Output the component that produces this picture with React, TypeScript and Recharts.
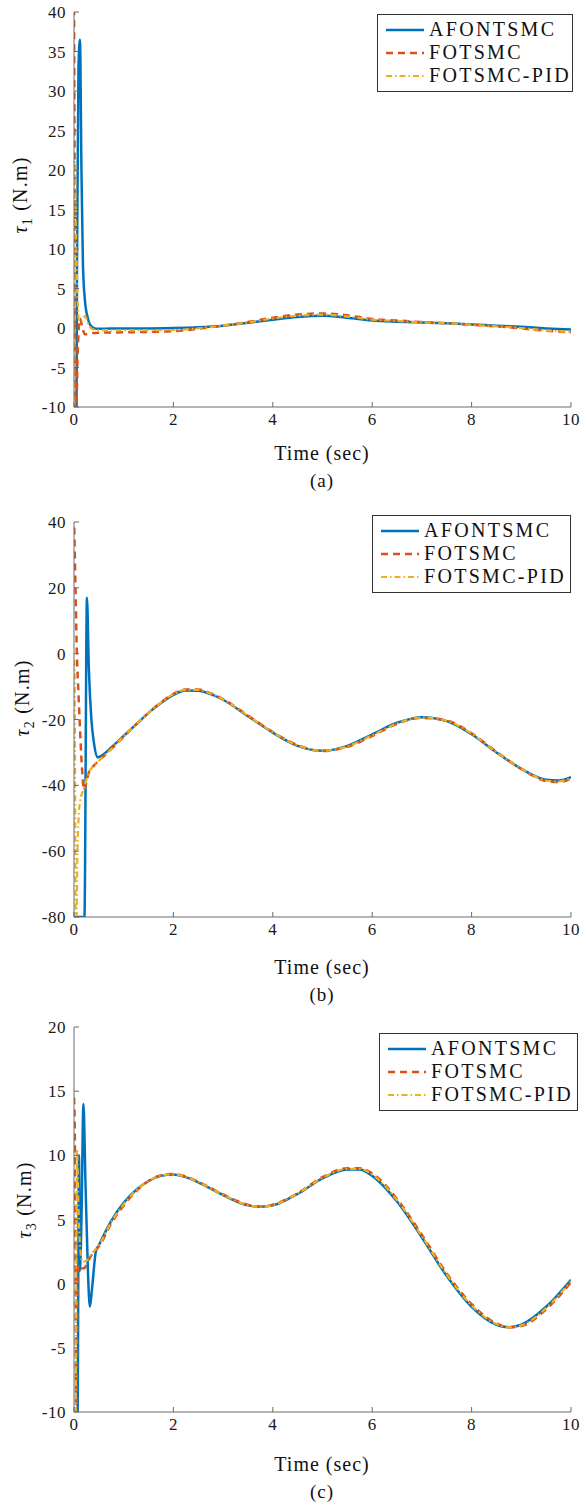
import React from 'react';
import { Line, LineChart, XAxis, YAxis } from 'recharts';

// ---- data (time in sec, torque in N.m) ----
const xTicks = [0, 2, 4, 6, 8, 10];
const yTicks1 = [-10, -5, 0, 5, 10, 15, 20, 25, 30, 35, 40];
const yTicks2 = [-80, -60, -40, -20, 0, 20, 40];
const yTicks3 = [-10, -5, 0, 5, 10, 15, 20];

const seriesNames = ['AFONTSMC', 'FOTSMC', 'FOTSMC-PID'];

// panel (a)
const t1Blue = [0, 0.05, 0.06, 0.09, 0.12, 0.15, 0.18, 0.22, 0.28, 0.35, 0.45, 0.5, 1, 1.5, 2, 2.5, 3, 3.5, 4, 4.5, 5, 5.5, 6, 6.5, 7, 7.5, 8, 8.5, 9, 9.5, 10];
const tau1Blue = [-12, -12, 8, 33, 36.5, 20, 8, 3.5, 1.2, 0.2, -0.1, -0.1, -0.05, -0.05, 0, 0.1, 0.3, 0.65, 1.05, 1.4, 1.55, 1.3, 0.95, 0.8, 0.7, 0.6, 0.45, 0.3, 0.15, -0.05, -0.2];
const t1Orange = [0, 0.015, 0.03, 0.045, 0.07, 0.12, 0.17, 0.22, 0.3, 0.5, 1, 1.5, 2, 2.5, 3, 3.5, 4, 4.5, 5, 5.5, 6, 6.5, 7, 7.5, 8, 8.5, 9, 9.5, 10];
const tau1Orange = [42, 15, -11, -11, -4, 1.2, 0, -0.8, -0.7, -0.6, -0.55, -0.5, -0.4, -0.1, 0.3, 0.75, 1.3, 1.7, 1.85, 1.6, 1.15, 0.95, 0.75, 0.6, 0.4, 0.2, -0.05, -0.35, -0.55];
const t1Yellow = [0, 0.02, 0.04, 0.07, 0.1, 0.15, 0.22, 0.3, 0.4, 0.5, 1, 1.5, 2, 2.5, 3, 3.5, 4, 4.5, 5, 5.5, 6, 6.5, 7, 7.5, 8, 8.5, 9, 9.5, 10];
const tau1Yellow = [-11, 21, 12, 4, 1, 0.8, 1.5, 0.3, -0.2, -0.25, -0.3, -0.3, -0.25, -0.05, 0.3, 0.7, 1.2, 1.55, 1.7, 1.45, 1.05, 0.9, 0.7, 0.6, 0.4, 0.2, 0, -0.3, -0.5];

// panel (b)
const t2Blue = [0, 0.21, 0.26, 0.3, 0.35, 0.4, 0.48, 0.6, 0.75, 1, 1.25, 1.5, 1.75, 2, 2.25, 2.5, 2.75, 3, 3.5, 4, 4.5, 5, 5.5, 6, 6.5, 7, 7.5, 8, 8.5, 9, 9.25, 9.5, 9.75, 10];
const tau2Blue = [-80, -80, 17, -5, -20, -27, -31.5, -30.5, -28.5, -25, -21.5, -18, -15, -12.5, -11.2, -11.3, -12.3, -14, -19, -24, -28, -29.5, -28, -24.5, -21, -19.3, -20.5, -24.5, -30, -35, -37, -38.3, -38.5, -37.5];
const t2Orange = [0, 0.03, 0.06, 0.09, 0.13, 0.17, 0.2, 0.25, 0.3, 0.4, 0.5, 0.75, 1, 1.25, 1.5, 1.75, 2, 2.25, 2.5, 2.75, 3, 3.5, 4, 4.5, 5, 5.5, 6, 6.5, 7, 7.5, 8, 8.5, 9, 9.25, 9.5, 9.75, 10];
const tau2Orange = [42, 20, -1, -12, -26, -37, -41.5, -39, -36, -34, -32.5, -29, -25.2, -21.5, -18, -14.8, -12.2, -10.9, -10.9, -12, -13.8, -18.8, -23.8, -27.8, -29.6, -28.3, -25, -21.3, -19.5, -20.3, -24.2, -29.8, -35, -37.2, -38.7, -39, -38];
const t2Yellow = [0, 0.01, 0.02, 0.035, 0.05, 0.07, 0.12, 0.2, 0.3, 0.4, 0.5, 0.75, 1, 1.25, 1.5, 1.75, 2, 2.25, 2.5, 2.75, 3, 3.5, 4, 4.5, 5, 5.5, 6, 6.5, 7, 7.5, 8, 8.5, 9, 9.25, 9.5, 9.75, 10];
const tau2Yellow = [-2, -3, -30, -80, -80, -60, -45, -41, -36, -34, -32.5, -29, -25.1, -21.5, -18, -14.9, -12.3, -11, -11, -12.1, -13.9, -18.9, -23.9, -27.9, -29.5, -28.2, -24.8, -21.2, -19.4, -20.4, -24.3, -29.9, -35, -37.1, -38.6, -38.8, -37.8];

// panel (c)
const t3Blue = [0, 0.07, 0.1, 0.12, 0.15, 0.19, 0.23, 0.28, 0.32, 0.36, 0.44, 0.5, 0.75, 1, 1.25, 1.5, 1.75, 2, 2.25, 2.5, 3, 3.5, 3.75, 4, 4.5, 5, 5.5, 5.75, 6, 6.5, 7, 7.5, 8, 8.5, 8.75, 9, 9.5, 10];
const tau3Blue = [-11, -11, 10, 1, 5, 14, 8, 1, -1.8, -0.5, 2.5, 3, 4.9, 6.3, 7.3, 8, 8.4, 8.5, 8.3, 7.9, 6.9, 6.1, 6, 6.1, 7, 8.2, 8.9, 8.9, 8.4, 6.4, 3.6, 0.6, -1.8, -3.2, -3.4, -3.2, -1.8, 0.3];
const t3Orange = [0, 0.015, 0.03, 0.045, 0.07, 0.1, 0.15, 0.2, 0.3, 0.4, 0.5, 0.75, 1, 1.25, 1.5, 1.75, 2, 2.25, 2.5, 3, 3.5, 3.75, 4, 4.5, 5, 5.5, 5.75, 6, 6.5, 7, 7.5, 8, 8.5, 8.75, 9, 9.5, 10];
const tau3Orange = [14.5, 12, 2, -11, 0.5, 1.5, 1.2, 1.2, 1.9, 2.5, 2.9, 4.7, 6.1, 7.2, 8, 8.45, 8.55, 8.35, 7.95, 6.95, 6.15, 6, 6.15, 7.05, 8.3, 9, 9, 8.6, 6.6, 3.8, 0.8, -1.6, -3.1, -3.4, -3.3, -2, 0.1];
const t3Yellow = [0, 0.03, 0.06, 0.09, 0.12, 0.17, 0.25, 0.35, 0.5, 0.75, 1, 1.25, 1.5, 1.75, 2, 2.25, 2.5, 3, 3.5, 3.75, 4, 4.5, 5, 5.5, 5.75, 6, 6.5, 7, 7.5, 8, 8.5, 8.75, 9, 9.5, 10];
const tau3Yellow = [-11, -11, 10.5, 6, 3, 1.7, 1.8, 2.3, 3, 4.8, 6.2, 7.25, 8, 8.42, 8.52, 8.32, 7.92, 6.92, 6.12, 6, 6.12, 7.02, 8.25, 8.95, 8.95, 8.5, 6.5, 3.7, 0.7, -1.7, -3.15, -3.4, -3.25, -1.9, 0.2];

const COLORS = ['#0072BD', '#D95319', '#EDB120'];
const DASHES = [undefined, '7 5', '6 3 1.5 3'];
const WIDTHS = [2.5, 2.5, 2.2];
const FONT = '"Liberation Serif", "Times New Roman", serif';

const pts = (t: number[], v: number[]) => t.map((x, i) => ({ t: x, v: v[i] }));

interface PanelProps {
  top: number;
  marginTop: number;
  marginBottom: number;
  domain: [number, number];
  ticks: number[];
  series: { t: number; v: number }[][];
  sub: string;
  caption: string;
  labelY: number;
  labelX: number;
  timeY: number;
  captionY: number;
  legend: { left: number; top: number; width: number; height: number };
}

function Panel(p: PanelProps) {
  const axisLine = { stroke: '#6b6b6b', strokeWidth: 1 };
  const tick = { fontSize: 17, fill: '#1a1a1a', fontFamily: FONT, letterSpacing: 0.5 };
  return (
    <>
      <div style={{ position: 'absolute', left: 0, top: p.top }}>
        <LineChart width={583} height={500} margin={{ top: p.marginTop, right: 12, bottom: p.marginBottom, left: 0 }}>
          <XAxis
            dataKey="t"
            type="number"
            domain={[0, 10]}
            ticks={xTicks}
            allowDataOverflow
            height={30}
            tick={tick}
            tickSize={-5}
            tickMargin={11}
            axisLine={axisLine}
            tickLine={axisLine}
          />
          <YAxis
            type="number"
            domain={p.domain}
            ticks={p.ticks}
            allowDataOverflow
            width={74}
            tick={tick}
            tickSize={-5}
            tickMargin={13}
            axisLine={axisLine}
            tickLine={axisLine}
          />
          {p.series.map((d, i) => (
            <Line
              key={i}
              data={d}
              dataKey="v"
              type="monotone"
              stroke={COLORS[i]}
              strokeWidth={WIDTHS[i]}
              strokeDasharray={DASHES[i]}
              dot={false}
              activeDot={false}
              isAnimationActive={false}
            />
          ))}
        </LineChart>
      </div>
      <div
        style={{
          position: 'absolute',
          left: p.labelX,
          top: p.labelY,
          transform: 'translate(-50%, -50%) rotate(-90deg)',
          fontFamily: FONT,
          fontSize: 20,
          letterSpacing: 1.2,
          whiteSpace: 'nowrap',
          color: '#111',
        }}
      >
        <i>τ</i>
        <sub style={{ fontSize: 14 }}>{p.sub}</sub> (N.m)
      </div>
      <div style={{ ...centered(322, p.timeY), fontSize: 20, letterSpacing: 1 }}>Time (sec)</div>
      <div style={{ ...centered(322, p.captionY), fontSize: 19, letterSpacing: 1 }}>{p.caption}</div>
      <LegendBox {...p.legend} />
    </>
  );
}

function centered(x: number, y: number): React.CSSProperties {
  return {
    position: 'absolute',
    left: x,
    top: y,
    transform: 'translate(-50%, -50%)',
    fontFamily: FONT,
    whiteSpace: 'nowrap',
    color: '#111',
  };
}

function LegendBox({ left, top, width, height }: { left: number; top: number; width: number; height: number }) {
  return (
    <div
      style={{
        position: 'absolute',
        left,
        top,
        width,
        height,
        boxSizing: 'border-box',
        border: '1.3px solid #333',
        background: '#fff',
        padding: '3px 0 0 8px',
        fontFamily: FONT,
        fontSize: 20,
        letterSpacing: 2.3,
        whiteSpace: 'nowrap',
        color: '#111',
      }}
    >
      {seriesNames.map((name, i) => (
        <div key={name} style={{ display: 'flex', alignItems: 'center', height: 23, whiteSpace: 'nowrap' }}>
          <svg width={38} height={10} style={{ marginRight: 5, flexShrink: 0 }}>
            <line x1={0} y1={5} x2={38} y2={5} stroke={COLORS[i]} strokeWidth={WIDTHS[i]} strokeDasharray={DASHES[i]} />
          </svg>
          <span style={{ whiteSpace: 'nowrap' }}>{name}</span>
        </div>
      ))}
    </div>
  );
}

export default function App() {
  return (
    <div style={{ position: 'absolute', left: 0, top: 0, width: 583, height: 1504, background: '#fff' }}>
      <Panel
        top={0}
        marginTop={12}
        marginBottom={63}
        domain={[-10, 40]}
        ticks={yTicks1}
        series={[pts(t1Blue, tau1Blue), pts(t1Orange, tau1Orange), pts(t1Yellow, tau1Yellow)]}
        sub="1"
        caption="(a)"
        labelX={22}
        labelY={195}
        timeY={453}
        captionY={481}
        legend={{ left: 377, top: 14, width: 196, height: 78 }}
      />
      <Panel
        top={500}
        marginTop={22}
        marginBottom={53}
        domain={[-80, 40]}
        ticks={yTicks2}
        series={[pts(t2Blue, tau2Blue), pts(t2Orange, tau2Orange), pts(t2Yellow, tau2Yellow)]}
        sub="2"
        caption="(b)"
        labelX={24}
        labelY={698}
        timeY={967}
        captionY={995}
        legend={{ left: 372, top: 515, width: 199, height: 78 }}
      />
      <Panel
        top={1000}
        marginTop={27}
        marginBottom={58}
        domain={[-10, 20]}
        ticks={yTicks3}
        series={[pts(t3Blue, tau3Blue), pts(t3Orange, tau3Orange), pts(t3Yellow, tau3Yellow)]}
        sub="3"
        caption="(c)"
        labelX={26}
        labelY={1200}
        timeY={1464}
        captionY={1492}
        legend={{ left: 379, top: 1033, width: 199, height: 78 }}
      />
    </div>
  );
}
